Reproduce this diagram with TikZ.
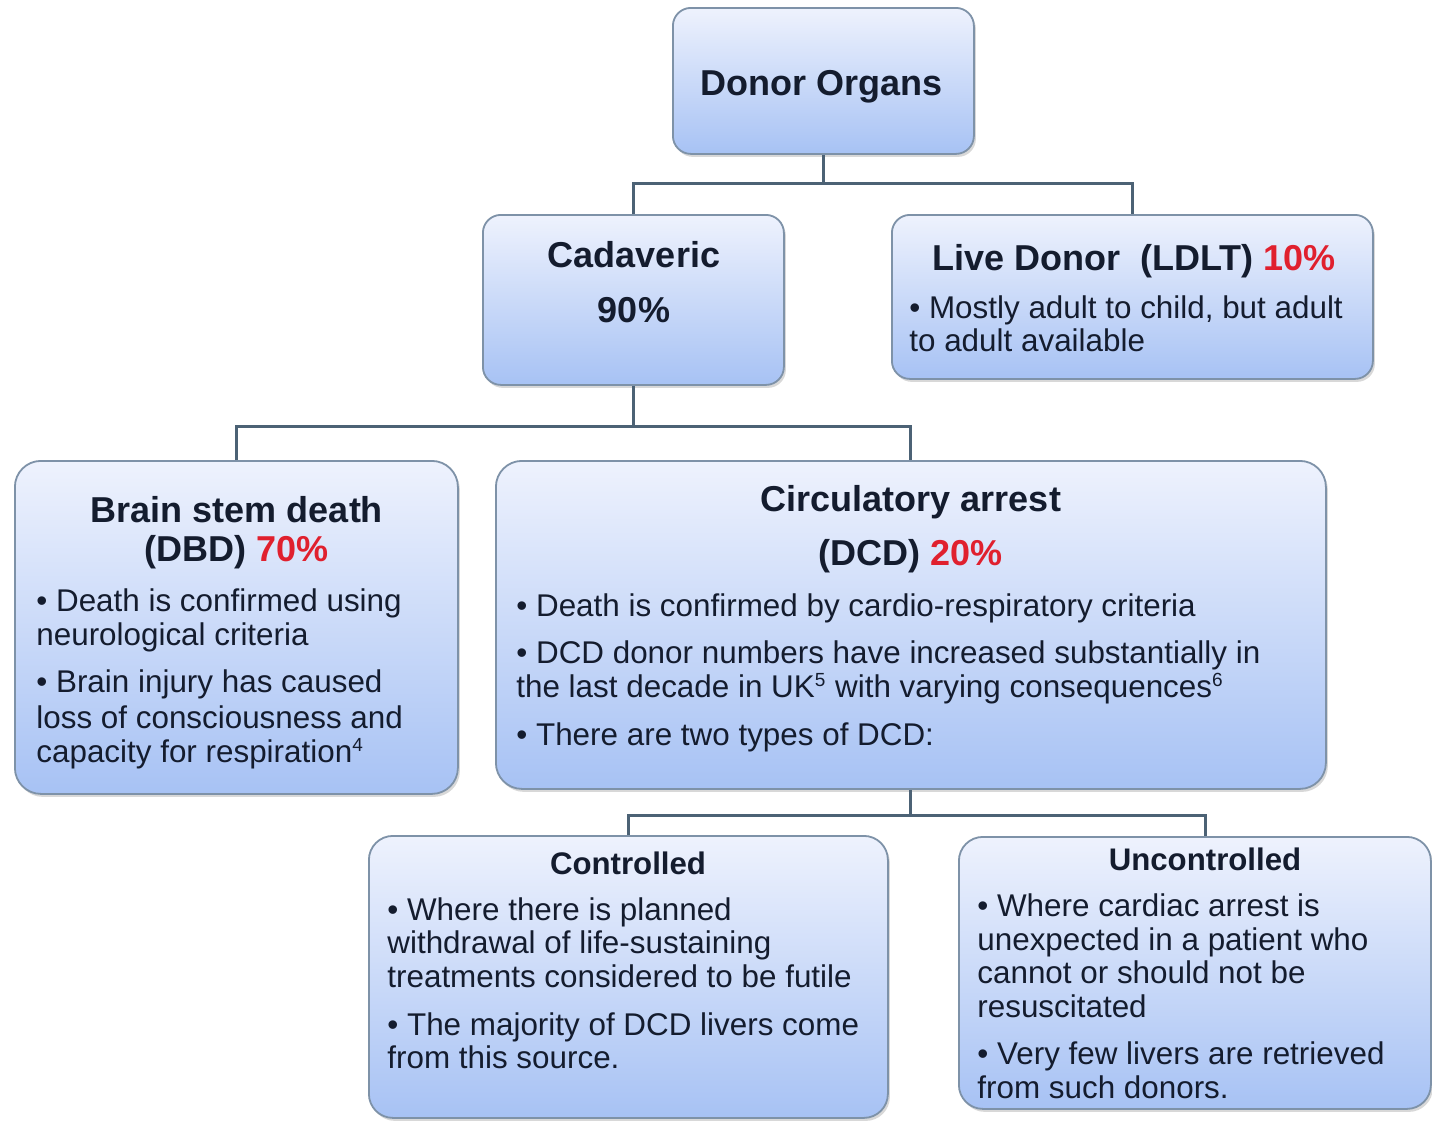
\documentclass[tikz,border=0pt]{standalone}
\usepackage{fontspec}
\setmainfont{Liberation Sans}
\usetikzlibrary{shadows}
\definecolor{txt}{HTML}{141C2E}
\definecolor{redp}{HTML}{E0202E}
\definecolor{topc}{HTML}{EEF2FD}
\definecolor{botc}{HTML}{A7C2F4}
\definecolor{edgec}{HTML}{7E92A8}
\definecolor{conc}{HTML}{4C6275}
\newcommand{\supn}[1]{\textsuperscript{\fontsize{9.5}{10}\selectfont #1}}
\begin{document}
\begin{tikzpicture}[x=0.5pt,y=-0.5pt,
  box/.style={draw=edgec, line width=0.9pt, rounded corners=9pt, top color=topc, bottom color=botc,
    anchor=north west, inner sep=0pt, drop shadow={opacity=0.3, shadow xshift=1pt, shadow yshift=-1.5pt}},
  ln/.style={anchor=base west, inner sep=0pt, text=txt, font=\fontsize{15.7}{17}\selectfont},
  ttl/.style={anchor=base, inner sep=0pt, text=txt, font=\fontsize{18}{20}\selectfont\bfseries},
  sttl/.style={anchor=base, inner sep=0pt, text=txt, font=\fontsize{15.6}{17}\selectfont\bfseries},
  conn/.style={draw=conc, line width=1.5pt}
]
\useasboundingbox (0,0) rectangle (1432,1121);
\fill[white] (0,0) rectangle (1432,1121);

% boxes
\node[box, minimum width=150.5pt, minimum height=73pt] (don) at (672,7) {};
\node[box, minimum width=150.5pt, minimum height=85pt] (cad) at (482,214) {};
\node[box, minimum width=240.5pt, minimum height=82pt] (live) at (891,214) {};
\node[box, minimum width=221.5pt, minimum height=166.5pt, rounded corners=13pt] (dbd) at (14,460) {};
\node[box, minimum width=415pt, minimum height=164pt, rounded corners=13pt] (dcd) at (495,460) {};
\node[box, minimum width=259.5pt, minimum height=141pt, rounded corners=12pt] (ctl) at (368,835) {};
\node[box, minimum width=236pt, minimum height=136pt, rounded corners=12pt] (unc) at (958,836) {};

% connectors
\coordinate (j1) at (don.south |- 0,183);
\coordinate (j2) at (cad.south |- 0,426);
\coordinate (j3) at (dcd.south |- 0,815);
\coordinate (uncTop) at (1205,836);
\draw[conn] (don.south) -- (j1);
\draw[conn] (cad.north) |- (j1) -| (live.north);
\draw[conn] (cad.south) -- (j2);
\draw[conn] (dbd.north) |- (j2) -| (dcd.north);
\draw[conn] (dcd.south) -- (j3);
\draw[conn] (ctl.north) |- (j3) -| (uncTop);

% texts
\node[ttl] (t0) at (822,95) {Donor Organs};
\node[ttl] (t1a) at (634,267) {Cadaveric};
\node[ttl] (t1b) at (634,322) {90\%};

\node[ttl] (t2) at (1134,270) {Live Donor\ \ (LDLT) \textcolor{redp}{10\%}};
\node[ln] (l2a) at (909,318) {• Mostly adult to child, but adult};
\node[ln] (l2b) at (909,351) {to adult available};

\node[ttl] (t3a) at (237,522) {Brain stem death};
\node[ttl] (t3b) at (237,561) {(DBD) \textcolor{redp}{70\%}};
\node[ln] (l3a) at (36,611) {• Death is confirmed using};
\node[ln] (l3b) at (36,645) {neurological criteria};
\node[ln] (l3c) at (36,692) {• Brain injury has caused};
\node[ln] (l3d) at (36,728) {loss of consciousness and};
\node[ln] (l3e) at (36,762) {capacity for respiration\supn{4}};

\node[ttl] (t4a) at (911,511) {Circulatory arrest};
\node[ttl] (t4b) at (911,565) {(DCD) \textcolor{redp}{20\%}};
\node[ln] (l4a) at (516,616) {• Death is confirmed by cardio-respiratory criteria};
\node[ln] (l4b) at (516,663) {• DCD donor numbers have increased substantially in};
\node[ln] (l4c) at (516,697) {the last decade in UK\supn{5} with varying consequences\supn{6}};
\node[ln] (l4d) at (516,745) {• There are two types of DCD:};

\node[sttl] (t5) at (628,874) {Controlled};
\node[ln] (l5a) at (387,920) {• Where there is planned};
\node[ln] (l5b) at (387,953) {withdrawal of life-sustaining};
\node[ln] (l5c) at (387,987) {treatments considered to be futile};
\node[ln] (l5d) at (387,1035) {• The majority of DCD livers come};
\node[ln] (l5e) at (387,1068) {from this source.};

\node[sttl] (t6) at (1205,870) {Uncontrolled};
\node[ln] (l6a) at (977,916) {• Where cardiac arrest is};
\node[ln] (l6b) at (977,950) {unexpected in a patient who};
\node[ln] (l6c) at (977,983) {cannot or should not be};
\node[ln] (l6d) at (977,1017) {resuscitated};
\node[ln] (l6e) at (977,1064) {• Very few livers are retrieved};
\node[ln] (l6f) at (977,1098) {from such donors.};
\end{tikzpicture}
\end{document}
